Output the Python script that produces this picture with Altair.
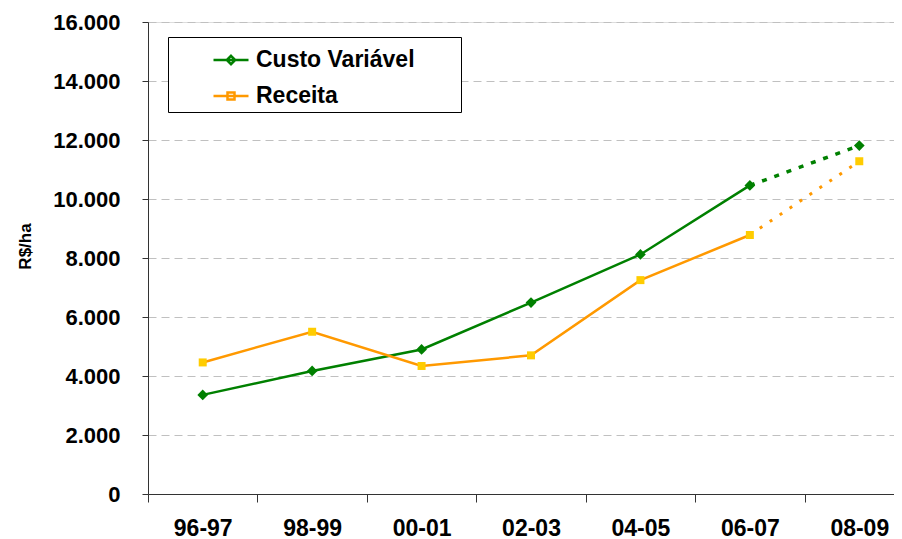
import altair as alt
import pandas as pd

categories = ["96-97", "98-99", "00-01", "02-03", "04-05", "06-07", "08-09"]
custo = [3360, 4170, 4900, 6490, 8120, 10460, 11810]
receita = [4460, 5500, 4340, 4700, 7250, 8780, 11280]
series_names = ["Custo Variável", "Receita"]
line_colors = ["#008000", "#FF9900"]
marker_colors = ["#008000", "#FFCC00"]
y_ticks = [0, 2000, 4000, 6000, 8000, 10000, 12000, 14000, 16000]

rows = []
for i, c in enumerate(categories):
    rows.append({"ano": c, "idx": i, "serie": series_names[0], "valor": custo[i]})
    rows.append({"ano": c, "idx": i, "serie": series_names[1], "valor": receita[i]})
df = pd.DataFrame(rows)

FONT = "Liberation Sans"

x_enc = alt.X(
    "ano:N",
    sort=categories,
    scale=alt.Scale(type="band", domain=categories, paddingInner=0, paddingOuter=0, range=[0, 766]),
    axis=alt.Axis(
        title=None, tickBand="extent", labelAngle=0, tickSize=8, tickColor="#333333",
        domainColor="#333333", labelFont=FONT, labelFontSize=23, labelFontWeight="bold",
        labelColor="black", labelPadding=15, grid=False,
    ),
)
y_enc = alt.Y(
    "valor:Q",
    scale=alt.Scale(domain=[0, 16000], nice=False),
    axis=alt.Axis(
        values=y_ticks, labelExpr="replace(format(datum.value, ','), ',', '.')",
        title="R$/ha", titleFont=FONT, titleFontSize=17, titleFontWeight="bold", titleColor="black",
        titleAngle=-90, titleX=-123, titleY=224, titleAlign="center", titleBaseline="middle",
        labelFont=FONT, labelFontSize=22, labelFontWeight="bold", labelColor="black",
        labelPadding=22, tickSize=6, tickColor="#333333", domainColor="#333333",
        grid=True, gridColor="#C0C0C0", gridDash=[8, 5], gridWidth=1,
    ),
)

legend = alt.Legend(
    title="MMM", titleOrient="right", titleOpacity=0, titleFontSize=15, titlePadding=4,
    titleFont=FONT, titleFontWeight="bold",
    orient="none", legendX=20, legendY=15,
    strokeColor="black", fillColor="white", padding=4,
    symbolSize=1225, symbolStrokeWidth=2.5, symbolOffset=40, labelOffset=6,
    labelFont=FONT, labelFontSize=23, labelFontWeight="bold", labelColor="black",
    rowPadding=5,
)
legend_shapes = [
    "M-1,0H1M0,-0.24L0.24,0L0,0.24L-0.24,0Z",
    "M-1,0H1M-0.2,-0.2H0.2V0.2H-0.2Z",
]

base = alt.Chart(df)
line_color = alt.Color("serie:N", scale=alt.Scale(domain=series_names, range=line_colors), legend=None)

solid = base.transform_filter("datum.idx <= 5").mark_line(strokeWidth=2.5).encode(
    x=x_enc, y=y_enc, color=line_color,
)
dashed_custo = base.transform_filter(
    (alt.datum.idx >= 5) & (alt.datum.serie == series_names[0])
).mark_line(strokeWidth=3.5, strokeDash=[5, 8], color=line_colors[0]).encode(x=x_enc, y=y_enc)
dashed_receita = base.transform_filter(
    (alt.datum.idx >= 5) & (alt.datum.serie == series_names[1])
).mark_line(strokeWidth=3, strokeDash=[3, 9], color=line_colors[1]).encode(x=x_enc, y=y_enc)
pts_custo = base.transform_filter(alt.datum.serie == series_names[0]).mark_point(
    filled=True, opacity=1, strokeWidth=0, shape="diamond", size=115, color=marker_colors[0]
).encode(x=x_enc, y=y_enc)
pts_receita = base.transform_filter(alt.datum.serie == series_names[1]).mark_point(
    filled=True, opacity=1, strokeWidth=0, shape="square", size=64, color=marker_colors[1]
).encode(x=x_enc, y=y_enc)

legend_layer = base.mark_point(filled=True, opacity=0).encode(
    fill=alt.Fill("serie:N", scale=alt.Scale(domain=series_names, range=marker_colors), legend=legend),
    stroke=alt.Stroke("serie:N", scale=alt.Scale(domain=series_names, range=line_colors), legend=legend),
    shape=alt.Shape("serie:N", scale=alt.Scale(domain=series_names, range=legend_shapes), legend=legend),
)

chart = alt.layer(legend_layer, solid, dashed_custo, dashed_receita, pts_custo, pts_receita).properties(
    width=746, height=472,
    autosize=alt.AutoSizeParams(type="none"),
    padding={"left": 140, "top": 14, "right": 0, "bottom": 45},
).configure_view(stroke=None).configure(background="white")

chart.save("out.html", embed_options={"renderer": "svg", "actions": False})
